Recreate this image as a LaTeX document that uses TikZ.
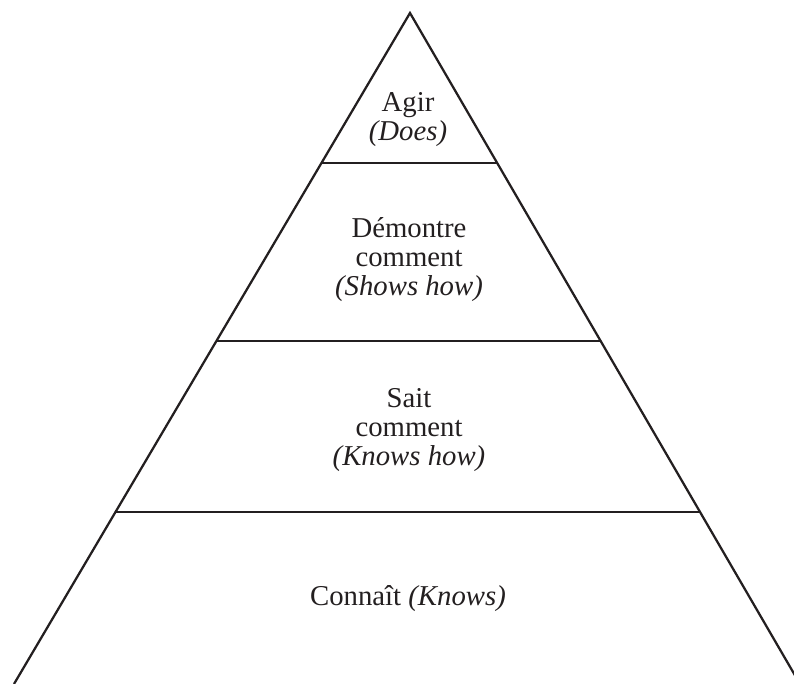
\documentclass[tikz,border=0pt]{standalone}
\usepackage{fontspec}
\setmainfont{Liberation Serif}
\usepackage{xcolor}
\usetikzlibrary{calc}
\definecolor{inkc}{HTML}{231F20}

\begin{document}
\begin{tikzpicture}[x=0.4pt, y=-0.4pt, line width=0.9pt, draw=inkc,
  tier/.style={align=center, text=inkc, inner sep=0pt,
               font=\fontsize{11.5}{11.6}\selectfont}]
  \useasboundingbox (0,0) rectangle (794,684);
  \coordinate (apex) at (410,13);
  \coordinate (bl) at (14,684);
  \coordinate (br) at (800,684);
  \begin{scope}
    \clip (0,0) rectangle (794,684);
    \draw[inkc] (bl) -- (apex) -- (br);
  \end{scope}
  % tier boundaries
  \foreach \ty in {163,341,512}
    \draw[inkc] ($(apex)!{(\ty-13)/671}!(bl)$) -- ($(apex)!{(\ty-13)/671}!(br)$);
  \node[tier] (does) at (408,119.5) {Agir\\\textit{(Does)}};
  \node[tier] (shows) at (409,260) {Démontre\\comment\\\textit{(Shows how)}};
  \node[tier] (knowshow) at (409,430) {Sait\\comment\\\textit{(Knows how)}};
  \node[tier] (knows) at (408,599) {Connaît \textit{(Knows)}};
\end{tikzpicture}
\end{document}
